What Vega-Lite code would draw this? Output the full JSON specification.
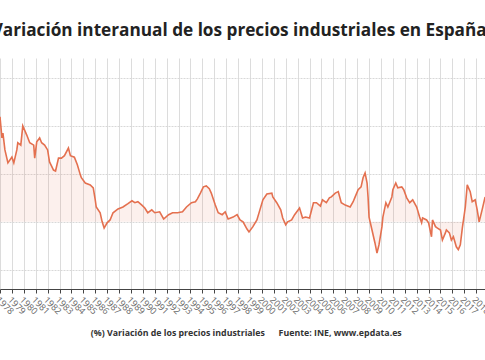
{
  "$schema": "https://vega.github.io/schema/vega-lite/v6.json",
  "width": 485,
  "height": 231,
  "autosize": {"type": "none"},
  "padding": {"top": 58, "left": 0, "right": 0, "bottom": 71},
  "background": "white",
  "config": {"view": {"stroke": null}, "font": "Open Sans"},
  "title": {
    "text": "Variación interanual de los precios industriales en España",
    "anchor": "start",
    "font": "Open Sans",
    "fontSize": 17.2,
    "fontWeight": "bold",
    "color": "#222222",
    "dx": -2,
    "offset": 19
  },
  "data": {
    "values": [
      {"fecha": "1978-01", "valor": 21.9}, {"fecha": "1978-03", "valor": 17.5}, {"fecha": "1978-04", "valor": 18.5},
      {"fecha": "1978-06", "valor": 15.0}, {"fecha": "1978-09", "valor": 12.3}, {"fecha": "1979-01", "valor": 13.5},
      {"fecha": "1979-03", "valor": 12.3}, {"fecha": "1979-06", "valor": 15.0}, {"fecha": "1979-07", "valor": 16.5},
      {"fecha": "1979-10", "valor": 16.0}, {"fecha": "1979-12", "valor": 20.0}, {"fecha": "1980-04", "valor": 18.1},
      {"fecha": "1980-07", "valor": 16.5}, {"fecha": "1980-11", "valor": 16.0}, {"fecha": "1980-12", "valor": 13.3},
      {"fecha": "1981-02", "valor": 16.7}, {"fecha": "1981-05", "valor": 17.5}, {"fecha": "1981-07", "valor": 16.5},
      {"fecha": "1981-10", "valor": 16.0}, {"fecha": "1982-01", "valor": 15.0}, {"fecha": "1982-03", "valor": 12.5},
      {"fecha": "1982-07", "valor": 10.8}, {"fecha": "1982-09", "valor": 10.6}, {"fecha": "1982-12", "valor": 13.3},
      {"fecha": "1983-03", "valor": 13.3}, {"fecha": "1983-06", "valor": 13.8}, {"fecha": "1983-10", "valor": 15.4},
      {"fecha": "1983-12", "valor": 13.8}, {"fecha": "1984-04", "valor": 13.5}, {"fecha": "1984-07", "valor": 11.9},
      {"fecha": "1984-10", "valor": 9.8}, {"fecha": "1984-11", "valor": 9.2}, {"fecha": "1985-03", "valor": 8.1},
      {"fecha": "1985-08", "valor": 7.7}, {"fecha": "1985-11", "valor": 7.1}, {"fecha": "1986-01", "valor": 4.6},
      {"fecha": "1986-02", "valor": 3.1}, {"fecha": "1986-06", "valor": 1.9}, {"fecha": "1986-08", "valor": 0.0},
      {"fecha": "1986-10", "valor": -1.3}, {"fecha": "1987-01", "valor": -0.2}, {"fecha": "1987-04", "valor": 0.4},
      {"fecha": "1987-07", "valor": 1.9}, {"fecha": "1987-12", "valor": 2.7}, {"fecha": "1988-05", "valor": 3.1},
      {"fecha": "1988-10", "valor": 3.8}, {"fecha": "1989-02", "valor": 4.4}, {"fecha": "1989-05", "valor": 4.0},
      {"fecha": "1989-08", "valor": 4.2}, {"fecha": "1989-12", "valor": 3.5}, {"fecha": "1990-03", "valor": 2.9},
      {"fecha": "1990-06", "valor": 1.9}, {"fecha": "1990-10", "valor": 2.5}, {"fecha": "1991-01", "valor": 1.9},
      {"fecha": "1991-06", "valor": 2.1}, {"fecha": "1991-10", "valor": 0.6}, {"fecha": "1992-03", "valor": 1.5},
      {"fecha": "1992-07", "valor": 1.9}, {"fecha": "1992-12", "valor": 1.9}, {"fecha": "1993-05", "valor": 2.1},
      {"fecha": "1993-09", "valor": 3.1}, {"fecha": "1994-02", "valor": 4.0}, {"fecha": "1994-06", "valor": 4.2},
      {"fecha": "1994-08", "valor": 4.8}, {"fecha": "1994-11", "valor": 6.0}, {"fecha": "1995-02", "valor": 7.3},
      {"fecha": "1995-05", "valor": 7.5}, {"fecha": "1995-08", "valor": 6.9}, {"fecha": "1995-10", "valor": 6.0},
      {"fecha": "1996-02", "valor": 3.5}, {"fecha": "1996-05", "valor": 1.9}, {"fecha": "1996-09", "valor": 1.5},
      {"fecha": "1996-12", "valor": 2.1}, {"fecha": "1997-03", "valor": 0.6}, {"fecha": "1997-08", "valor": 1.0},
      {"fecha": "1997-12", "valor": 1.5}, {"fecha": "1998-03", "valor": 0.4}, {"fecha": "1998-06", "valor": 0.0},
      {"fecha": "1998-10", "valor": -1.5}, {"fecha": "1998-12", "valor": -2.1}, {"fecha": "1999-04", "valor": -1.0},
      {"fecha": "1999-08", "valor": 0.4}, {"fecha": "1999-11", "valor": 2.5}, {"fecha": "2000-02", "valor": 4.6},
      {"fecha": "2000-06", "valor": 5.8}, {"fecha": "2000-11", "valor": 6.0}, {"fecha": "2000-12", "valor": 5.2},
      {"fecha": "2001-04", "valor": 4.0}, {"fecha": "2001-08", "valor": 2.5}, {"fecha": "2001-10", "valor": 0.8},
      {"fecha": "2002-01", "valor": -0.6}, {"fecha": "2002-03", "valor": 0.0}, {"fecha": "2002-07", "valor": 0.4},
      {"fecha": "2002-10", "valor": 1.5}, {"fecha": "2003-03", "valor": 2.9}, {"fecha": "2003-06", "valor": 0.8},
      {"fecha": "2003-09", "valor": 1.0}, {"fecha": "2004-01", "valor": 0.8}, {"fecha": "2004-05", "valor": 4.0},
      {"fecha": "2004-08", "valor": 4.0}, {"fecha": "2004-12", "valor": 3.3}, {"fecha": "2005-02", "valor": 4.6},
      {"fecha": "2005-06", "valor": 4.0}, {"fecha": "2005-09", "valor": 5.0}, {"fecha": "2005-11", "valor": 5.2},
      {"fecha": "2006-03", "valor": 6.0}, {"fecha": "2006-06", "valor": 6.3}, {"fecha": "2006-09", "valor": 4.0},
      {"fecha": "2007-01", "valor": 3.5}, {"fecha": "2007-06", "valor": 3.1}, {"fecha": "2007-09", "valor": 4.2},
      {"fecha": "2007-11", "valor": 5.2}, {"fecha": "2008-02", "valor": 6.7}, {"fecha": "2008-05", "valor": 7.3},
      {"fecha": "2008-07", "valor": 9.2}, {"fecha": "2008-09", "valor": 10.2}, {"fecha": "2008-11", "valor": 8.1},
      {"fecha": "2008-12", "valor": 5.2}, {"fecha": "2009-01", "valor": 1.0}, {"fecha": "2009-04", "valor": -1.7},
      {"fecha": "2009-07", "valor": -4.4}, {"fecha": "2009-09", "valor": -6.5}, {"fecha": "2009-11", "valor": -4.8},
      {"fecha": "2010-02", "valor": -1.0}, {"fecha": "2010-03", "valor": 1.0}, {"fecha": "2010-06", "valor": 4.0},
      {"fecha": "2010-08", "valor": 3.1}, {"fecha": "2010-12", "valor": 5.2}, {"fecha": "2011-01", "valor": 6.7},
      {"fecha": "2011-04", "valor": 8.1}, {"fecha": "2011-06", "valor": 7.1}, {"fecha": "2011-10", "valor": 7.3},
      {"fecha": "2011-12", "valor": 6.7}, {"fecha": "2012-03", "valor": 5.0}, {"fecha": "2012-06", "valor": 4.0},
      {"fecha": "2012-09", "valor": 4.6}, {"fecha": "2013-01", "valor": 3.1}, {"fecha": "2013-04", "valor": 1.0},
      {"fecha": "2013-06", "valor": -0.2}, {"fecha": "2013-07", "valor": 0.8}, {"fecha": "2013-11", "valor": 0.4},
      {"fecha": "2014-01", "valor": -0.2}, {"fecha": "2014-04", "valor": -3.1}, {"fecha": "2014-05", "valor": 0.4},
      {"fecha": "2014-08", "valor": -1.0}, {"fecha": "2014-10", "valor": -1.3}, {"fecha": "2015-01", "valor": -1.7},
      {"fecha": "2015-03", "valor": -3.8}, {"fecha": "2015-06", "valor": -2.3}, {"fecha": "2015-07", "valor": -1.7},
      {"fecha": "2015-10", "valor": -2.3}, {"fecha": "2015-12", "valor": -3.8}, {"fecha": "2016-02", "valor": -3.1},
      {"fecha": "2016-05", "valor": -5.2}, {"fecha": "2016-07", "valor": -5.8}, {"fecha": "2016-09", "valor": -4.8},
      {"fecha": "2016-11", "valor": -1.3}, {"fecha": "2017-02", "valor": 3.1}, {"fecha": "2017-04", "valor": 7.7},
      {"fecha": "2017-07", "valor": 6.3}, {"fecha": "2017-09", "valor": 4.2}, {"fecha": "2017-12", "valor": 4.6},
      {"fecha": "2018-02", "valor": 2.5}, {"fecha": "2018-04", "valor": 0.0}, {"fecha": "2018-07", "valor": 2.5},
      {"fecha": "2018-10", "valor": 5.2}
    ]
  },
  "transform": [{"calculate": "'(%) Variación de los precios industriales'", "as": "serie"}],
  "encoding": {
    "x": {
      "field": "fecha",
      "type": "temporal",
      "title": null,
      "scale": {"domain": ["1978-01-01", "2018-09-28"], "nice": false},
      "axis": {
        "format": "%Y",
        "tickCount": {"interval": "year", "step": 1},
        "labelAngle": 45,
        "labelAlign": "left",
        "labelBaseline": "top",
        "labelFont": "Open Sans",
        "labelFontSize": 9,
        "labelColor": "#666666",
        "labelOverlap": false,
        "labelFlush": false,
        "labelPadding": 2,
        "grid": true,
        "gridColor": "#dcdcdc",
        "domainColor": "#444444",
        "tickColor": "#444444",
        "tickSize": 4
      }
    }
  },
  "layer": [
    {
      "mark": {"type": "area", "color": "#e4704f", "opacity": 0.1, "clip": true},
      "encoding": {
        "y": {
          "field": "valor",
          "type": "quantitative",
          "title": null,
          "scale": {"domain": [-14, 34.17], "nice": false, "zero": false},
          "axis": {
            "values": [-10, -5, 0, 5, 10, 15, 20, 25, 30],
            "labels": false,
            "ticks": false,
            "domain": false,
            "grid": true,
            "gridColor": "#d8d8d8",
            "gridDash": [2, 1]
          }
        },
        "y2": {"datum": 0}
      }
    },
    {
      "mark": {"type": "rule", "color": "#444444", "strokeWidth": 1.3},
      "encoding": {"y": {"datum": 0}}
    },
    {
      "mark": {"type": "line", "strokeWidth": 1.6, "clip": true},
      "encoding": {
        "y": {"field": "valor", "type": "quantitative"},
        "color": {
          "field": "serie",
          "type": "nominal",
          "scale": {"range": ["#e4704f"]},
          "legend": {
            "title": null,
            "orient": "none",
            "legendX": 78,
            "legendY": 271,
            "direction": "horizontal",
            "symbolType": "square",
            "symbolSize": 45,
            "symbolStrokeWidth": 0,
            "labelFont": "Open Sans",
            "labelFontSize": 8.8,
            "labelFontWeight": "bold",
            "labelColor": "#333333",
            "labelLimit": 0,
            "labelExpr": "datum.label + '\u00a0\u00a0\u00a0\u00a0\u00a0\u00a0Fuente: INE, www.epdata.es'"
          }
        }
      }
    }
  ]
}
